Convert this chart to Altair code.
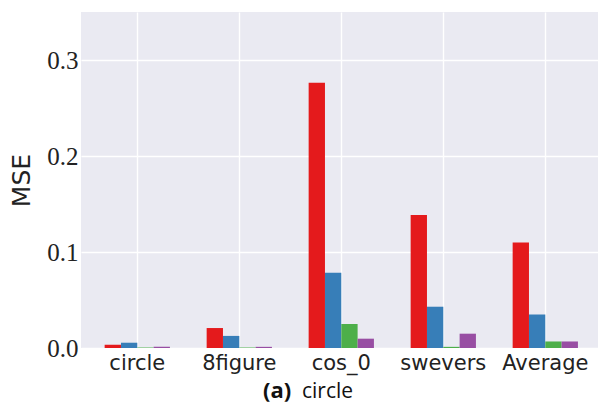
import altair as alt
import pandas as pd

# Per-trajectory MSE for four models, plus their average
categories = ["circle", "8figure", "cos_0", "swevers", "Average"]
models = ["Model 1", "Model 2", "Model 3", "Model 4"]
colors = ["#E41A1C", "#377EB8", "#4DAF4A", "#984EA3"]

mse_model1 = [0.0034, 0.0208, 0.2764, 0.1385, 0.1098]
mse_model2 = [0.0055, 0.0126, 0.0785, 0.0430, 0.0349]
mse_model3 = [0.0005, 0.0005, 0.0250, 0.0012, 0.0068]
mse_model4 = [0.0012, 0.0012, 0.0097, 0.0149, 0.0068]

y_ticks = [0.0, 0.1, 0.2, 0.3]

rows = []
for model, vals in zip(models, [mse_model1, mse_model2, mse_model3, mse_model4]):
    for cat, v in zip(categories, vals):
        rows.append({"trajectory": cat, "model": model, "mse": v})
df = pd.DataFrame(rows)

bg = "#EAEAF2"

bars = alt.Chart(df).mark_bar(stroke=None).encode(
    x=alt.X(
        "trajectory:N",
        sort=categories,
        scale=alt.Scale(paddingInner=0.36, paddingOuter=0.2143, align=0.541),
        axis=alt.Axis(
            title=None, labelAngle=0, labelFont="DejaVu Sans", labelFontSize=21,
            labelColor="#222222", labelPadding=4, ticks=False, domain=False,
            grid=True, gridColor="white", gridWidth=1.4, bandPosition=0.5,
        ),
    ),
    xOffset=alt.XOffset(
        "model:N", sort=models,
        scale=alt.Scale(paddingInner=0, paddingOuter=0),
    ),
    y=alt.Y(
        "mse:Q",
        scale=alt.Scale(domain=[0, 0.35], nice=False, zero=True),
        axis=alt.Axis(
            title="MSE", values=y_ticks, format=".1f",
            labelFont="Liberation Serif", labelFontSize=25, labelColor="#222222",
            labelPadding=3, ticks=False, domain=False,
            titleFont="DejaVu Sans", titleFontSize=25, titleFontWeight="normal",
            titleColor="#222222", titlePadding=12,
            grid=True, gridColor="white", gridWidth=1.4,
        ),
    ),
    color=alt.Color(
        "model:N", sort=models,
        scale=alt.Scale(domain=models, range=colors), legend=None,
    ),
)

caption_bold = alt.Chart(pd.DataFrame({"t": ["(a)"]})).mark_text(
    font="Open Sans", fontSize=22, fontWeight="bold", align="left",
    baseline="alphabetic", color="#111111",
).encode(x=alt.value(182), y=alt.value(386), text="t:N")

caption_rest = alt.Chart(pd.DataFrame({"t": ["circle"]})).mark_text(
    font="Open Sans", fontSize=21, align="left",
    baseline="alphabetic", color="#111111",
).encode(x=alt.value(221), y=alt.value(386), text="t:N")

chart = alt.layer(bars, caption_bold, caption_rest).properties(
    width=517,
    height=336,
    autosize=alt.AutoSizeParams(type="none"),
    padding={"left": 81, "top": 12, "right": 0, "bottom": 58},
    background="white",
).configure_view(fill=bg, stroke=None)

chart.save("out.html", embed_options={"renderer": "svg", "actions": False})
